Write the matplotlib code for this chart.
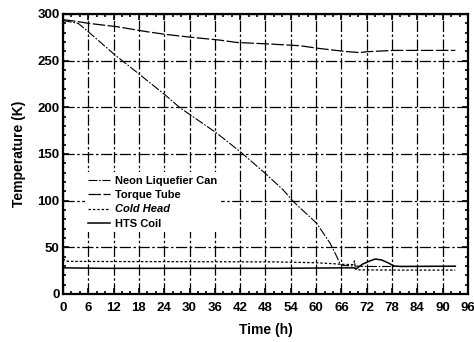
import numpy as np
import matplotlib as mpl
import matplotlib.pyplot as plt

# values
t_torque = [0, 3.3, 6, 12.8, 19.9, 24.6, 30.5, 37.2, 41.2, 48.4, 56.2, 60.2, 66.6, 70.4, 72, 78.5, 93]
T_torque = [294, 292, 290, 286.4, 281, 278, 275, 272, 269.5, 268, 266, 263.4, 260, 258.6, 259.6, 261, 261]

t_neon = [0, 3.6, 6.4, 12.3, 18.3, 24.2, 27.6, 36.4, 42, 47.9, 52.2, 54.6, 60.1, 63.3, 64.9, 65.7, 66.5, 69, 72, 78, 93]
T_neon = [293, 290, 279.4, 256.2, 234.7, 213.3, 200, 172.5, 152.5, 129.4, 111.5, 99, 75.9, 54.5, 40, 31.8, 30.5, 30, 29.5, 29.5, 29.5]

t_cold = [0, 0.5, 1.2, 10, 30, 50, 60, 64, 66, 68.8, 69.1, 69.3, 69.6, 70.5, 80, 93]
T_cold = [38, 36, 35, 34.8, 34.6, 34.4, 33.5, 32.5, 31.8, 31.5, 35.5, 27, 26, 25.8, 25.6, 25.6]

t_hts = [0, 10, 30, 50, 66, 69, 69.5, 71, 72.8, 74, 75.5, 77, 78.5, 80, 93]
T_hts = [28, 27.5, 27.5, 27.5, 28, 28, 27, 32, 35.5, 37.5, 36.5, 33.5, 30, 29.5, 29.8]

mpl.rcParams['font.family'] = ['Liberation Sans', 'DejaVu Sans']
mpl.rcParams['font.weight'] = 'bold'

fig = plt.figure(figsize=(4.74, 3.42), dpi=100)
ax = fig.add_axes([63 / 474, 48 / 342, 405 / 474, 280 / 342])

ax.grid(True, which='major', color='black', linestyle=(0, (9, 2, 2, 2)), linewidth=0.9)

ax.plot(t_neon, T_neon, color='black', linewidth=0.8, linestyle=(0, (8, 1.5, 1.5, 1.5)), label='Neon Liquefier Can')
ax.plot(t_torque, T_torque, color='black', linewidth=0.9, linestyle=(0, (10, 2)), label='Torque Tube')
ax.plot(t_cold, T_cold, color='black', linewidth=0.9, linestyle=(0, (2, 1.5)), label='Cold Head')
ax.plot(t_hts, T_hts, color='black', linewidth=1.1, linestyle='-', label='HTS Coil')

ax.set_xlim(0, 96)
ax.set_ylim(0, 300)
ax.set_xticks(np.arange(0, 97, 6))
ax.set_yticks(np.arange(0, 301, 50))
ax.set_xticks(np.arange(0, 97, 2), minor=True)
ax.set_yticks(np.arange(0, 301, 10), minor=True)
ax.tick_params(which='both', direction='in', top=True, right=True, width=1.2)
ax.tick_params(which='major', length=4, labelsize=9.5)
ax.tick_params(axis='x', which='major', pad=6)
ax.tick_params(axis='y', which='major', pad=2.5)
ax.tick_params(which='minor', length=2.5)
for lbl in ax.get_xticklabels() + ax.get_yticklabels():
    lbl.set_fontweight('bold')
for s in ax.spines.values():
    s.set_linewidth(1.6)

ax.set_xlabel('Time (h)', fontsize=10, fontweight='bold', labelpad=6)
ax.set_ylabel('Temperature (K)', fontsize=10, fontweight='bold', labelpad=8)

leg = ax.legend(loc='upper left', bbox_to_anchor=(0.054, 0.434), frameon=True,
                fontsize=8, handlelength=2.0, handletextpad=0.45, labelspacing=0.39,
                borderpad=0.3, borderaxespad=0, fancybox=False)
leg.get_frame().set_edgecolor('none')
leg.get_frame().set_facecolor('white')
leg.get_frame().set_alpha(1)
for txt in leg.get_texts():
    txt.set_fontweight('bold')
leg.get_texts()[2].set_fontstyle('italic')

fig.savefig('out.png', dpi=100)
